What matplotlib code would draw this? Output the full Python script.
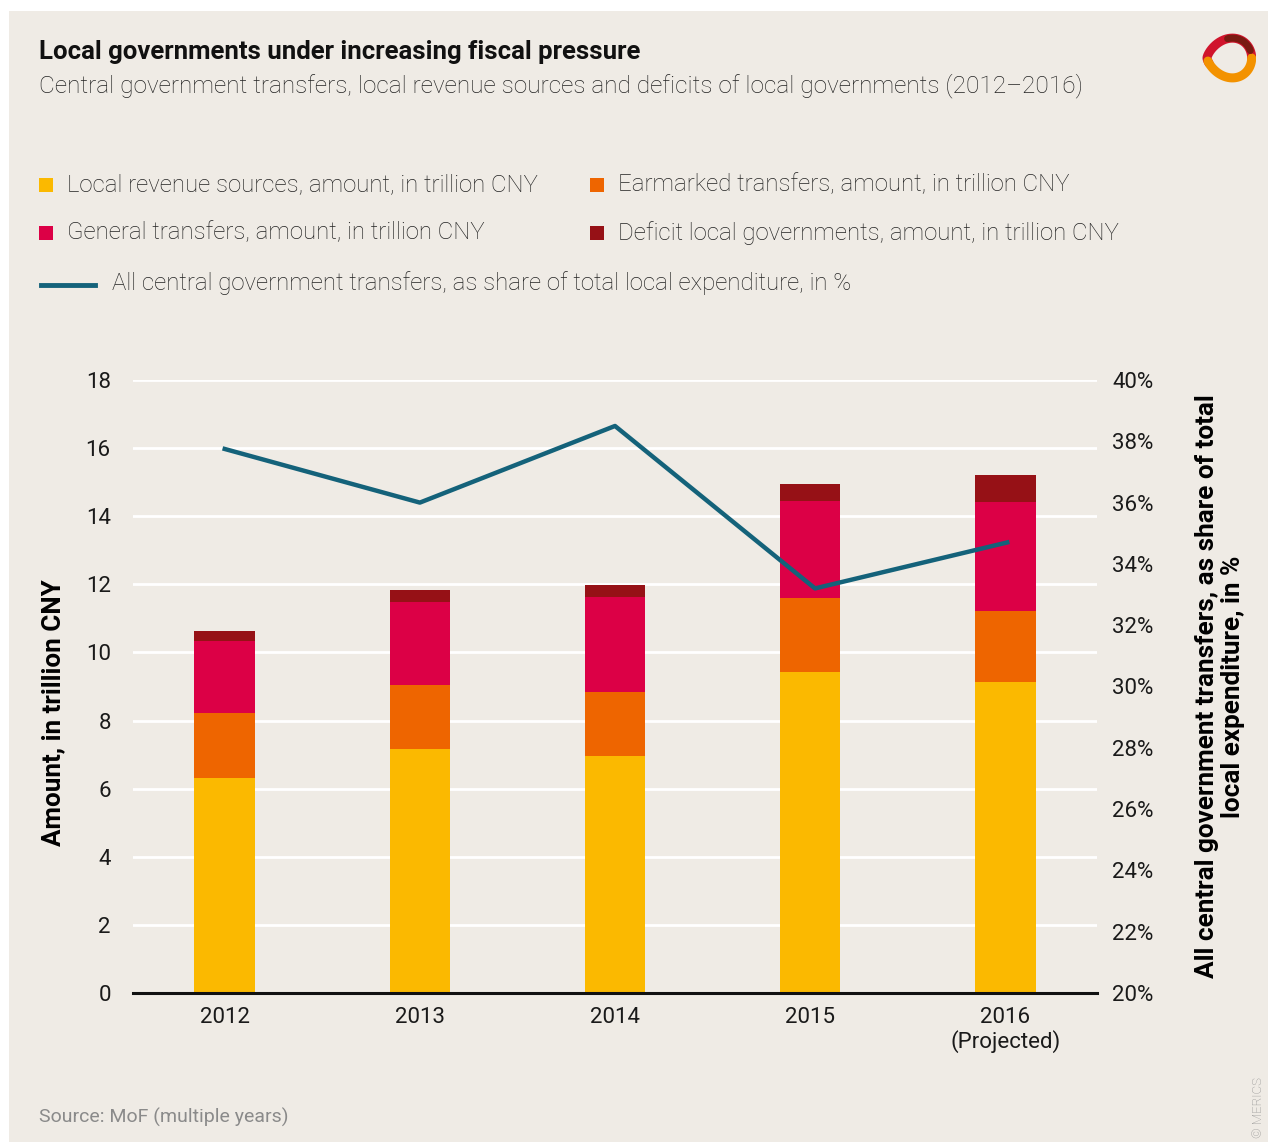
import matplotlib.pyplot as plt
import numpy as np
from matplotlib.patches import Rectangle

years = ['2012', '2013', '2014', '2015', '2016\n(Projected)']
local_revenue = [6.31, 7.16, 6.96, 9.42, 9.13]
earmarked = [1.91, 1.88, 1.88, 2.18, 2.09]
general = [2.11, 2.44, 2.79, 2.85, 3.20]
deficit = [0.30, 0.35, 0.35, 0.49, 0.79]
transfer_share = [37.75, 36.0, 38.5, 33.2, 34.7]

labels = ['Local revenue sources, amount, in trillion CNY',
          'Earmarked transfers, amount, in trillion CNY',
          'General transfers, amount, in trillion CNY',
          'Deficit local governments, amount, in trillion CNY']
line_label = 'All central government transfers, as share of total local expenditure, in %'

c_yellow = '#FBB900'
c_orange = '#EE6500'
c_red = '#DC0046'
c_dark = '#961116'
c_line = '#14627A'
bg = '#EFEBE5'

plt.rcParams['font.family'] = ['Roboto', 'DejaVu Sans']

W, H = 1269, 1146
fig = plt.figure(figsize=(W / 100, H / 100), dpi=100)
fig.patch.set_facecolor('white')
fig.patches.append(Rectangle((9 / W, 1 - 1142 / H), (1268 - 9) / W, (1142 - 11) / H,
                             transform=fig.transFigure, facecolor=bg, edgecolor='none', zorder=-5))

ax = fig.add_axes([133 / W, 1 - 993 / H, (1097 - 133) / W, (993 - 380) / H])
ax.set_facecolor('none')
x = np.arange(len(years))
w = 0.31
bottom = np.zeros(len(years))
for vals, col in zip([local_revenue, earmarked, general, deficit], [c_yellow, c_orange, c_red, c_dark]):
    ax.bar(x, vals, w, bottom=bottom, color=col, zorder=3)
    bottom += np.array(vals)

ax.set_ylim(0, 18)
ax.set_xlim(-0.47, 4.47)
ax.set_yticks(range(0, 19, 2))
ax.grid(axis='y', color='white', lw=2, zorder=1)
ax.set_axisbelow(True)
for s in ['top', 'right', 'left']:
    ax.spines[s].set_visible(False)
ax.spines['bottom'].set_linewidth(2.2)
ax.spines['bottom'].set_color('#111111')
ax.spines['bottom'].set_zorder(5)
ax.set_xticks(x)
ax.set_xticklabels(years, fontsize=16, color='#1a1a1a', linespacing=1.1)
ax.tick_params(axis='both', length=0, labelsize=16, colors='#1a1a1a')
ax.tick_params(axis='x', pad=10)
ax.tick_params(axis='y', pad=16)
ax.set_ylabel('Amount, in trillion CNY', fontsize=18.7, fontweight='bold')
ax.yaxis.set_label_coords(-0.07, 0.458)

ax2 = ax.twinx()
ax2.plot(x + np.array([0, 0, 0, 0.025, 0.01]), transfer_share, color=c_line, lw=3.2, zorder=6)
ax2.set_ylim(20, 40)
ax2.set_yticks(range(20, 41, 2))
ax2.set_yticklabels([f'{v}%' for v in range(20, 41, 2)])
ax2.tick_params(axis='y', length=0, labelsize=16, colors='#1a1a1a', pad=11)
for s in ['top', 'right', 'left', 'bottom']:
    ax2.spines[s].set_visible(False)
ax2.set_ylabel('All central government transfers, as share of total\nlocal expenditure, in %',
               fontsize=18.8, fontweight='bold', labelpad=30, linespacing=1.1)

# header
fig.text(39 / W, 1 - 52 / H, 'Local governments under increasing fiscal pressure',
         fontsize=18.5, fontweight='bold', va='center', color='#111111')
fig.text(39 / W, 1 - 86 / H,
         'Central government transfers, local revenue sources and deficits of local governments (2012\u20132016)',
         fontsize=17.6, fontweight='light', va='center', color='#222222')

# legend
legend_pos = [(39, 185), (590, 185), (39, 233), (590, 233)]
for (lx, ly), lab, col in zip(legend_pos, labels, [c_yellow, c_orange, c_red, c_dark]):
    fig.patches.append(Rectangle((lx / W, 1 - (ly + 7) / H), 14 / W, 14 / H,
                                 transform=fig.transFigure, facecolor=col, edgecolor='none'))
    fig.text((lx + 28) / W, 1 - ly / H, lab, fontsize=17.3, fontweight='light',
             va='center', color='#222222')
fig.add_artist(plt.Line2D([41 / W, 95 / W], [1 - 285 / H, 1 - 285 / H], color=c_line, lw=3.5))
fig.text(112 / W, 1 - 283 / H, line_label, fontsize=17.3, fontweight='light',
         va='center', color='#222222')

fig.text(39 / W, 1 - 1117 / H, 'Source: MoF (multiple years)', fontsize=14,
         va='center', color='#8a8a8a')
fig.text(1258 / W, 1 - 1108 / H, '\u00a9 MERICS', fontsize=9.5, fontweight='light', rotation=90,
         va='center', ha='center', color='#8a8a8a')

# logo
lg = fig.add_axes([1194 / W, 1 - 84 / H, 62 / W, 52 / H])
lg.axis('off')
lg.set_xlim(0, 1)
lg.set_ylim(0, 1)
t = np.linspace(0, 2 * np.pi, 240)
rx = 0.5 + 0.36 * np.cos(t) + 0.07 * np.cos(2 * t)
ry = 0.5 + 0.32 * np.sin(t) + 0.12 * np.sin(2 * t)
lg.plot(rx[:150], ry[:150], color='#D0142C', lw=6.5, solid_capstyle='round')
lg.plot(rx[140:], ry[140:], color='#F39200', lw=6.5, solid_capstyle='round')
lg.plot(rx[10:50], ry[10:50], color='#7A1A12', lw=5, solid_capstyle='round')

fig.savefig('out.png', dpi=100, facecolor=fig.get_facecolor())
